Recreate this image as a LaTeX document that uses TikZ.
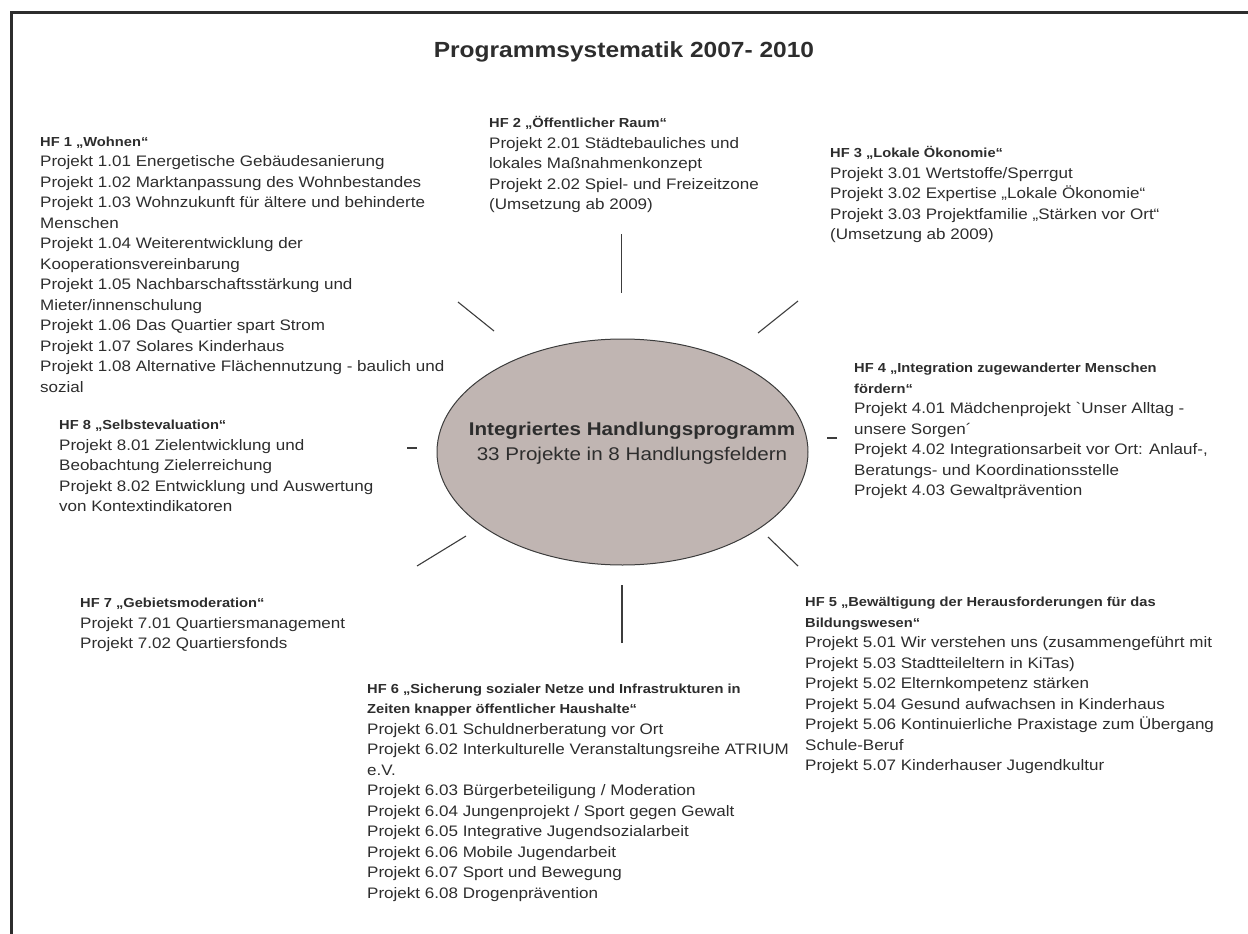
\documentclass[tikz,border=0pt]{standalone}
\usepackage{fontspec}
\setmainfont{Liberation Sans}[FakeStretch=1.12, Ligatures=TeXOff]
\usepackage{tikz}
\usetikzlibrary{shapes.geometric, positioning}
\definecolor{txtgray}{RGB}{45,45,45}
\definecolor{linegray}{RGB}{60,60,60}
\definecolor{hubfill}{RGB}{192,181,178}
\tikzstyle{field} = [anchor=north west, inner sep=0pt, align=left, text=txtgray, font=\fontsize{15.2}{20.5}\selectfont]
\tikzstyle{spoke} = [draw=linegray, line width=1.1pt]
\tikzstyle{hub} = [ellipse, draw=linegray, line width=1pt, fill=hubfill, minimum width=371pt, minimum height=226pt, inner sep=0pt]
\tikzstyle{frame} = [draw=txtgray, line width=2.2pt]
\newcommand{\hfhead}[1]{{\fontsize{13.1}{20.5}\selectfont\bfseries #1}}
\newcommand{\hftop}[1]{\rule{0pt}{13pt}\hfhead{#1}}

\begin{document}
\begin{tikzpicture}[x=1pt, y=-1pt]
        \useasboundingbox (0,0) rectangle (1248,934);
        \draw[frame] (11.5,934) -- (11.5,12.5) -- (1248,12.5);

        \node (title) at (624,52) [text=txtgray, font=\fontsize{21.9}{26}\selectfont\bfseries] {Programmsystematik 2007- 2010};

        \node (ihp) at (622.5,452) [hub] {};
        \node (ihplabel) at (632,443) [align=center, inner sep=0pt, text=txtgray, font=\fontsize{18.4}{25}\selectfont] {\textbf{Integriertes Handlungsprogramm}\\33 Projekte in 8 Handlungsfeldern};

        \node (hf1) at (40,133) [field] {\hftop{HF 1 „Wohnen“}\\
            Projekt 1.01 Energetische Gebäudesanierung\\
            Projekt 1.02 Marktanpassung des Wohnbestandes\\
            Projekt 1.03 Wohnzukunft für ältere und behinderte\\
            Menschen\\
            Projekt 1.04 Weiterentwicklung der\\
            Kooperationsvereinbarung\\
            Projekt 1.05 Nachbarschaftsstärkung und\\
            Mieter/innenschulung\\
            Projekt 1.06 Das Quartier spart Strom\\
            Projekt 1.07 Solares Kinderhaus\\
            Projekt 1.08 Alternative Flächennutzung - baulich und\\
            sozial};
        \node (hf2) at (489,114.7) [field] {\hftop{HF 2 „Öffentlicher Raum“}\\
            Projekt 2.01 Städtebauliches und\\
            lokales Maßnahmenkonzept\\
            Projekt 2.02 Spiel- und Freizeitzone\\
            (Umsetzung ab 2009)};
        \node (hf3) at (830,144.4) [field] {\hftop{HF 3 „Lokale Ökonomie“}\\
            Projekt 3.01 Wertstoffe/Sperrgut\\
            Projekt 3.02 Expertise „Lokale Ökonomie“\\
            Projekt 3.03 Projektfamilie „Stärken vor Ort“\\
            (Umsetzung ab 2009)};
        \node (hf4) at (854,359.7) [field] {\hftop{HF 4 „Integration zugewanderter Menschen}\\
            \hfhead{fördern“}\\
            Projekt 4.01 Mädchenprojekt `Unser Alltag -\\
            unsere Sorgen´\\
            Projekt 4.02 Integrationsarbeit vor Ort: Anlauf-,\\
            Beratungs- und Koordinationsstelle\\
            Projekt 4.03 Gewaltprävention};
        \node (hf5) at (805,593.4) [field] {\hftop{HF 5 „Bewältigung der Herausforderungen für das}\\
            \hfhead{Bildungswesen“}\\
            Projekt 5.01 Wir verstehen uns (zusammengeführt mit\\
            Projekt 5.03 Stadtteileltern in KiTas)\\
            Projekt 5.02 Elternkompetenz stärken\\
            Projekt 5.04 Gesund aufwachsen in Kinderhaus\\
            Projekt 5.06 Kontinuierliche Praxistage zum Übergang\\
            Schule-Beruf\\
            Projekt 5.07 Kinderhauser Jugendkultur};
        \node (hf6) at (367,680) [field] {\hftop{HF 6 „Sicherung sozialer Netze und Infrastrukturen in}\\
            \hfhead{Zeiten knapper öffentlicher Haushalte“}\\
            Projekt 6.01 Schuldnerberatung vor Ort\\
            Projekt 6.02 Interkulturelle Veranstaltungsreihe ATRIUM\\
            e.V.\\
            Projekt 6.03 Bürgerbeteiligung / Moderation\\
            Projekt 6.04 Jungenprojekt / Sport gegen Gewalt\\
            Projekt 6.05 Integrative Jugendsozialarbeit\\
            Projekt 6.06 Mobile Jugendarbeit\\
            Projekt 6.07 Sport und Bewegung\\
            Projekt 6.08 Drogenprävention};
        \node (hf7) at (80,594.7) [field] {\hftop{HF 7 „Gebietsmoderation“}\\
            Projekt 7.01 Quartiersmanagement\\
            Projekt 7.02 Quartiersfonds};
        \node (hf8) at (59,416.7) [field] {\hftop{HF 8 „Selbstevaluation“}\\
            Projekt 8.01 Zielentwicklung und\\
            Beobachtung Zielerreichung\\
            Projekt 8.02 Entwicklung und Auswertung\\
            von Kontextindikatoren};

        \coordinate (s1out) at (458,302);  \coordinate (s1in) at (494,331);
        \coordinate (s2out) at (621.7,234); \coordinate (s2in) at (621.7,293);
        \coordinate (s3out) at (798,301);  \coordinate (s3in) at (758,333);
        \coordinate (s4out) at (837,438);  \coordinate (s4in) at (827,438);
        \coordinate (s5out) at (798,566);  \coordinate (s5in) at (768,537);
        \coordinate (s6out) at (622,643);  \coordinate (s6in) at (622,585);
        \coordinate (s7out) at (417,566);  \coordinate (s7in) at (466,536);
        \coordinate (s8out) at (407,448);  \coordinate (s8in) at (417,448);

        \draw [spoke] (s1out) -- (s1in);
        \draw [spoke] (s2out) -- (s2in);
        \draw [spoke] (s3out) -- (s3in);
        \draw [spoke] (s4out) -- (s4in);
        \draw [spoke] (s5out) -- (s5in);
        \draw [spoke] (s6out) -- (s6in);
        \draw [spoke] (s7out) -- (s7in);
        \draw [spoke] (s8out) -- (s8in);
    \end{tikzpicture}
\end{document}
